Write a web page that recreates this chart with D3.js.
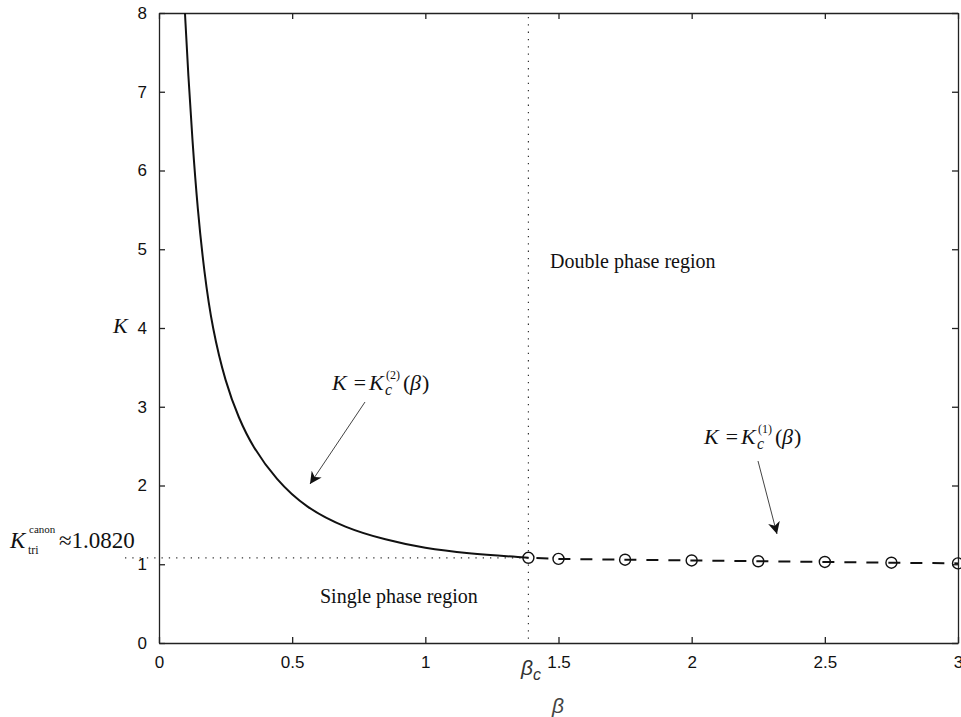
<!DOCTYPE html>
<html>
<head>
<meta charset="utf-8" />
<title>Phase diagram</title>
<style>
  body { margin: 0; background: #fff; }
  .tick text { font-family: "Liberation Sans", Arial, sans-serif; font-size: 17px; fill: #111; }
  .lbl { font-family: "Liberation Serif", "Times New Roman", serif; fill: #111; }
</style>
</head>
<body>
<svg width="961" height="717"></svg>
<script src="https://cdn.jsdelivr.net/npm/d3@7"></script>
<script>
    // curve K = Kc2(beta)
    var curveBeta = [0.0975, 0.11, 0.125, 0.145, 0.17, 0.2, 0.25, 0.3, 0.35, 0.44, 0.55, 0.7, 0.85, 1.0, 1.15, 1.387];
    var curveK    = [8.0, 7.2, 6.4, 5.5, 4.7, 4.0, 3.3, 2.85, 2.5, 2.07, 1.72, 1.46, 1.31, 1.2, 1.14, 1.082];

    // dashed line K = Kc1(beta) with circle markers
    var markBeta = [1.387, 1.5, 1.75, 2, 2.25, 2.5, 2.75, 3];
    var markK    = [1.082, 1.068, 1.058, 1.048, 1.038, 1.029, 1.020, 1.011];

    var xTicks = [0, 0.5, 1, 1.5, 2, 2.5, 3];
    var yTicks = [0, 1, 2, 3, 4, 5, 6, 7, 8];
    var betaC = 1.387;
    var kTri = 1.082;

    var svg = d3.select('svg');
    var x = d3.scaleLinear().domain([0, 3]).range([159, 958]);
    var y = d3.scaleLinear().domain([0, 8]).range([643, 13]);

    // axes with inward ticks on all four sides
    var fmt = function (d) { return d; };
    svg.append('g').attr('transform', 'translate(0,643)')
        .call(d3.axisBottom(x).tickValues(xTicks).tickSizeInner(-6).tickSizeOuter(0).tickPadding(13).tickFormat(fmt));
    svg.append('g').attr('transform', 'translate(0,13)')
        .call(d3.axisTop(x).tickValues(xTicks).tickSizeInner(-6).tickSizeOuter(0).tickFormat(''));
    svg.append('g').attr('transform', 'translate(159,0)')
        .call(d3.axisLeft(y).tickValues(yTicks).tickSizeInner(-6).tickSizeOuter(0).tickPadding(12).tickFormat(fmt));
    svg.append('g').attr('transform', 'translate(958,0)')
        .call(d3.axisRight(y).tickValues(yTicks).tickSizeInner(-6).tickSizeOuter(0).tickFormat(''));
    svg.selectAll('.domain, .tick line').attr('stroke', '#222').attr('stroke-width', 1.3);
    svg.selectAll('.tick text').attr('fill', '#111');

    // dotted guide lines
    svg.append('line')
        .attr('x1', x(betaC)).attr('x2', x(betaC))
        .attr('y1', 17).attr('y2', 640)
        .attr('stroke', '#333').attr('stroke-width', 1.2).attr('stroke-dasharray', '1.3,6');
    svg.append('line')
        .attr('x1', 125).attr('x2', x(betaC))
        .attr('y1', y(kTri)).attr('y2', y(kTri))
        .attr('stroke', '#333').attr('stroke-width', 1.2).attr('stroke-dasharray', '1.3,6');

    // solid curve
    var pts = curveBeta.map(function (b, i) { return [b, curveK[i]]; });
    var line = d3.line()
        .x(function (d) { return x(d[0]); })
        .y(function (d) { return y(d[1]); })
        .curve(d3.curveBasis);
    svg.append('path').datum(pts)
        .attr('d', line).attr('fill', 'none')
        .attr('stroke', '#111').attr('stroke-width', 2);

    // dashed line + circles
    var mpts = markBeta.map(function (b, i) { return [b, markK[i]]; });
    svg.append('path').datum(mpts)
        .attr('d', d3.line().x(function (d) { return x(d[0]); }).y(function (d) { return y(d[1]); }))
        .attr('fill', 'none').attr('stroke', '#111').attr('stroke-width', 2)
        .attr('stroke-dasharray', '12,10').attr('stroke-dashoffset', -8);
    svg.selectAll('circle.m').data(mpts).enter().append('circle')
        .attr('class', 'm')
        .attr('cx', function (d) { return x(d[0]); })
        .attr('cy', function (d) { return y(d[1]); })
        .attr('r', 5.5)
        .attr('fill', 'none').attr('stroke', '#111').attr('stroke-width', 1.4);

    // arrows
    svg.append('defs').append('marker')
        .attr('id', 'ah').attr('viewBox', '0 0 10 10')
        .attr('refX', 10).attr('refY', 5)
        .attr('markerWidth', 12).attr('markerHeight', 12)
        .attr('markerUnits', 'userSpaceOnUse')
        .attr('orient', 'auto')
        .append('path').attr('d', 'M0,0 L10,5 L0,10 L3,5 Z').attr('fill', '#111');
    svg.append('line').attr('x1', 365).attr('y1', 402).attr('x2', 310).attr('y2', 484)
        .attr('stroke', '#444').attr('stroke-width', 1).attr('marker-end', 'url(#ah)');
    svg.append('line').attr('x1', 758).attr('y1', 461).attr('x2', 777).attr('y2', 534)
        .attr('stroke', '#444').attr('stroke-width', 1).attr('marker-end', 'url(#ah)');

    // helper for small text pieces
    function txt(tx, ty, size, s, italic) {
        return svg.append('text').attr('class', 'lbl')
            .attr('x', tx).attr('y', ty).attr('font-size', size)
            .attr('font-style', italic ? 'italic' : 'normal').text(s);
    }

    // K = Kc^(n)(beta) labels
    function kc(tx, ty, sup) {
        txt(tx, ty, 22, 'K =', true);
        txt(tx + 37, ty, 22, 'K', true);
        txt(tx + 53, ty + 5, 16, 'c', true);
        txt(tx + 54, ty - 11, 12, '(' + sup + ')', false);
        txt(tx + 71, ty, 22, '(', false);
        txt(tx + 78, ty, 22, '\u03B2', true);
        txt(tx + 90, ty, 22, ')', false);
    }
    kc(332, 390, 2);
    kc(704, 444, 1);

    txt(550, 268, 20, 'Double phase region', false);
    txt(320, 603, 20, 'Single phase region', false);

    // K_tri^canon label
    txt(10, 548, 23, 'K', true);
    txt(28, 554, 12, 'tri', false);
    txt(29, 533, 11, 'canon', false);
    txt(59, 548, 23, '\u22481.0820', false);

    txt(113, 333, 22, 'K', true);

    svg.append('text').attr('x', 521).attr('y', 675)
        .attr('font-family', '"Liberation Sans", Arial, sans-serif')
        .attr('font-size', 21).attr('font-style', 'italic').attr('fill', '#333').text('\u03B2');
    svg.append('text').attr('x', 533).attr('y', 680)
        .attr('font-family', '"Liberation Sans", Arial, sans-serif')
        .attr('font-size', 16).attr('font-style', 'italic').attr('fill', '#333').text('c');

    svg.append('text').attr('x', 552).attr('y', 713)
        .attr('font-family', '"Liberation Sans", Arial, sans-serif')
        .attr('font-size', 21).attr('font-style', 'italic').attr('fill', '#444').text('\u03B2');
</script>
</body>
</html>
